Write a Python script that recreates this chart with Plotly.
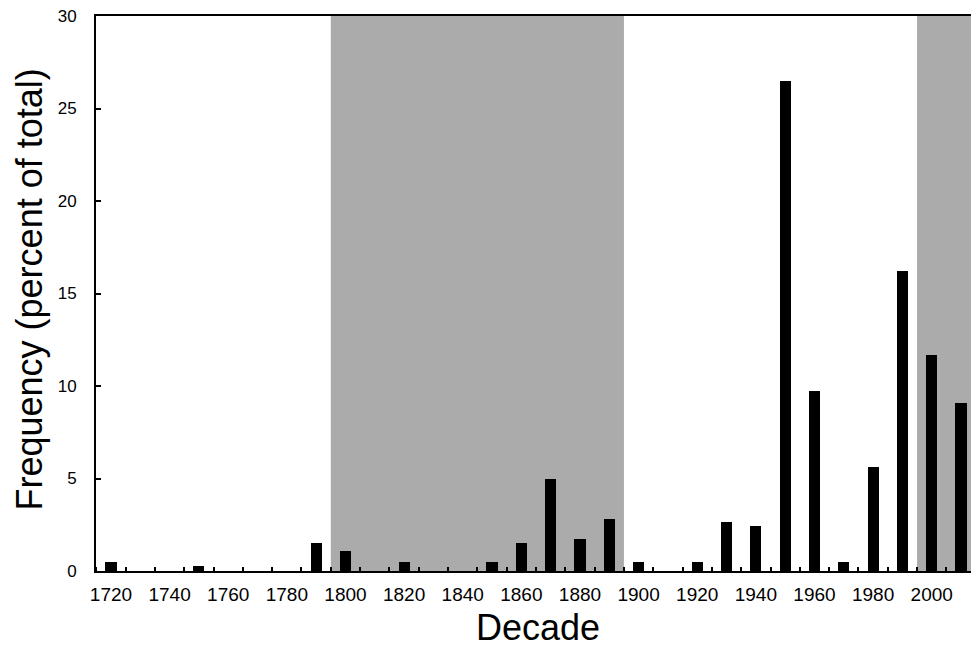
import plotly.graph_objects as go

decades = [1720, 1730, 1740, 1750, 1760, 1770, 1780, 1790, 1800, 1810,
           1820, 1830, 1840, 1850, 1860, 1870, 1880, 1890, 1900, 1910,
           1920, 1930, 1940, 1950, 1960, 1970, 1980, 1990, 2000, 2010]
frequency = [0.5, 0, 0, 0.25, 0, 0, 0, 1.5, 1.1, 0,
             0.5, 0, 0, 0.5, 1.5, 5.0, 1.75, 2.8, 0.5, 0,
             0.5, 2.65, 2.45, 26.5, 9.75, 0.5, 5.6, 16.2, 11.7, 9.1]
shaded_periods = [(1795, 1895), (1995, 2030)]
tick_labels = list(range(1720, 2021, 20))

FONT = "Liberation Sans, Arial, Helvetica, sans-serif"

fig = go.Figure()
fig.add_trace(go.Bar(x=decades, y=frequency, width=3.8,
                     marker=dict(color="black", line=dict(width=0))))

for x0, x1 in shaded_periods:
    fig.add_shape(type="rect", xref="x", yref="y", x0=x0, x1=x1, y0=0, y1=30,
                  fillcolor="#ababab", line=dict(width=0), layer="below")

fig.update_layout(
    width=971, height=649,
    margin=dict(l=96, r=0, t=16, b=78, autoexpand=False),
    paper_bgcolor="white", plot_bgcolor="white",
    showlegend=False,
    font=dict(family=FONT, color="black"),
    bargap=0,
)
fig.update_xaxes(
    range=[1714.9, 2013.4], automargin=False,
    tickvals=tick_labels, ticktext=[str(v) for v in tick_labels],
    ticks="", tickfont=dict(size=19), ticklabelstandoff=5,
    showgrid=False, zeroline=False,
    showline=True, linecolor="black", linewidth=2, mirror=True,
    minor=dict(ticks="inside", tick0=1725, dtick=10, ticklen=4,
               tickwidth=2, tickcolor="black", showgrid=False),
)
fig.update_yaxes(
    range=[0, 30], tickvals=[0, 5, 10, 15, 20, 25, 30], automargin=False,
    ticks="inside", ticklen=5, tickwidth=2, tickcolor="black",
    tickfont=dict(size=17), ticklabelstandoff=14,
    showgrid=False, zeroline=False,
    showline=True, linecolor="black", linewidth=2,
)

fig.add_annotation(text="Decade", xref="paper", yref="paper",
                   x=0.5057, y=-0.101, xanchor="center", yanchor="middle",
                   showarrow=False, font=dict(size=36))
fig.add_annotation(text="Frequency (percent of total)", xref="paper", yref="paper",
                   x=-0.076, y=0.5063, xanchor="center", yanchor="middle",
                   textangle=-90, showarrow=False, font=dict(size=36))

fig.write_html("out.html",
               config={"displayModeBar": False},
               post_script="document.body.style.margin='0';"
                           "document.body.style.overflow='hidden';")
